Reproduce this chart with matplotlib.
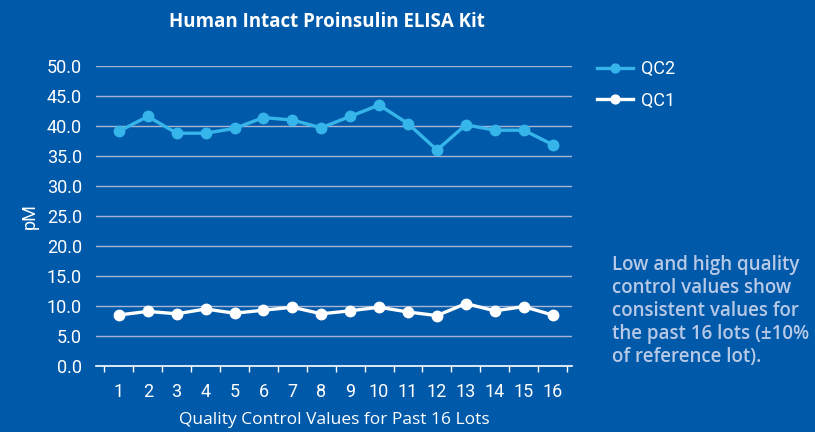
import matplotlib.pyplot as plt

# data
lots = list(range(1, 17))
qc2 = [39.1, 41.6, 38.8, 38.8, 39.6, 41.4, 41.0, 39.7, 41.6, 43.5, 40.4, 36.0, 40.2, 39.3, 39.3, 36.9]
qc1 = [8.5, 9.1, 8.7, 9.5, 8.8, 9.3, 9.8, 8.7, 9.2, 9.8, 9.0, 8.4, 10.4, 9.2, 9.9, 8.5]
yticks = [0, 5, 10, 15, 20, 25, 30, 35, 40, 45, 50]

bg = '#0059A9'
light = '#36B5EA'
note_col = '#B7C9E6'

plt.rcParams['font.family'] = ['Roboto', 'DejaVu Sans']

fig = plt.figure(figsize=(8.15, 4.32), dpi=100)
fig.patch.set_facecolor(bg)
ax = fig.add_axes([96/815, 66/432, 476/815, 300/432])
ax.set_facecolor(bg)

ax.plot(lots, qc2, color=light, lw=2.4, marker='o', ms=7.5, label='QC2')
ax.plot(lots, qc1, color='white', lw=2.4, marker='o', ms=7.5, label='QC1')

ax.set_ylim(0, 50)
ax.set_xlim(0.21, 16.67)
ax.set_yticks(yticks)
ax.set_yticklabels(['%.1f' % v for v in yticks])
ax.set_xticks(lots)
ax.set_xticks([i + 0.5 for i in range(0, 17)], minor=True)
ax.tick_params(axis='x', which='major', length=0, pad=12, colors='white', labelsize=13)
ax.tick_params(axis='x', which='minor', length=4, width=1, color='white', direction='out')
ax.tick_params(axis='y', length=0, pad=10, colors='white', labelsize=13)

ax.yaxis.grid(True, color='#A7B5D3', lw=1)
ax.set_axisbelow(True)
for s in ['top', 'right', 'left']:
    ax.spines[s].set_visible(False)
ax.spines['bottom'].set_color('white')
ax.spines['bottom'].set_linewidth(1.2)

ax.set_ylabel('pM', color='white', fontsize=13, labelpad=6)
ax.set_xlabel('Quality Control Values for Past 16 Lots', color='white',
              fontsize=12.5, labelpad=8, family=['Open Sans', 'DejaVu Sans'])

fig.text(327/815, 1 - 22/432, 'Human Intact Proinsulin ELISA Kit', color='white',
         fontsize=13.5, fontweight='bold', ha='center', va='center',
         family=['Open Sans', 'DejaVu Sans'])

leg = ax.legend(loc='upper left', bbox_to_anchor=(581/815, 1 - 44/432),
                bbox_transform=fig.transFigure, frameon=False, fontsize=13,
                handlelength=2.0, labelspacing=0.75, handletextpad=0.45,
                markerscale=0.85)
for t in leg.get_texts():
    t.set_color('white')

note = ('Low and high quality\ncontrol values show\nconsistent values for\n'
        'the past 16 lots (±10%\nof reference lot).')
fig.text(612/815, 1 - 255/432, note, color=note_col, fontsize=13.5,
         fontweight='semibold', ha='left', va='top', linespacing=1.2,
         family=['Open Sans', 'DejaVu Sans'])

fig.savefig('out.png', dpi=100, facecolor=bg)
